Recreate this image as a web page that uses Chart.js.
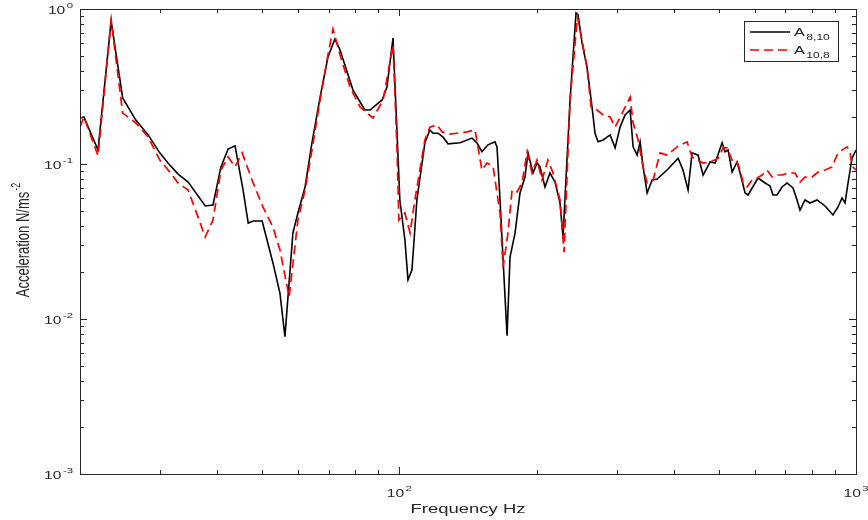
<!DOCTYPE html>
<html>
<head>
<meta charset="utf-8">
<script src="https://cdn.jsdelivr.net/npm/chart.js@4.4.1/dist/chart.umd.min.js"></script>
<style>
  html, body { margin: 0; padding: 0; background: #fff; }
  canvas { display: block; }
</style>
</head>
<body>
<canvas id="chart" width="868" height="520"></canvas>
<script>
// A8,10 measurement (solid black)
const freqA = [20, 20.4, 21.9, 23.4, 24.8, 26.5, 28.2, 29.9, 31.2, 32.8,
    34.5, 37.6, 39.1, 40.7, 42.2, 43.7, 45.5, 46.7, 47.9, 50.1,
    52.9, 54.8, 56.2, 58.5, 60.0, 62.2, 64.4, 67.1, 69.8, 72.3,
    74.2, 79.2, 84.1, 86.3, 91.7, 94.0, 96.9, 98.9, 100.3, 102.9,
    104.5, 106.6, 109.3, 113.8, 116.7, 118.6, 121.6, 124.7, 127.9, 135.9,
    144.3, 147.9, 151.7, 156.4, 162.0, 163.7, 166.2, 168.8, 172.2, 174.8,
    179.3, 183.8, 188.5, 191.4, 196.3, 200.3, 203.3, 208.5, 213.8, 219.3,
    224.9, 228.3, 236.6, 243.8, 246.3, 251.3, 257.6, 264.3, 268.3, 272.5,
    279.4, 289.5, 296.9, 304.4, 312.2, 320.2, 325.1, 331.7, 336.8, 341.9,
    348.9, 357.8, 366.9, 385.8, 407.9, 418.0, 428.9, 437.6, 451.1, 462.6,
    479.3, 491.5, 509.2, 516.9, 524.8, 535.5, 549.1, 557.5, 571.7, 580.4,
    601.2, 610.3, 632.2, 648.3, 658.2, 671.6, 688.7, 706.3, 727.9, 742.8,
    754.1, 773.4, 793.0, 821.6, 855.4, 890.6, 913.3, 931.9, 946.2, 960.6,
    980.3, 1000];
const accA = [0.198, 0.201, 0.123, 0.837, 0.267, 0.192, 0.154, 0.118, 0.101, 0.0861,
    0.0765, 0.0536, 0.0544, 0.0957, 0.125, 0.131, 0.068, 0.0416, 0.0429, 0.0429,
    0.023, 0.0147, 0.0077, 0.0359, 0.0483, 0.0711, 0.137, 0.27, 0.49, 0.64,
    0.544, 0.30, 0.223, 0.223, 0.259, 0.314, 0.65, 0.158, 0.0586, 0.0323,
    0.0179, 0.0207, 0.0586, 0.137, 0.166, 0.158, 0.158, 0.149, 0.135, 0.137,
    0.147, 0.137, 0.12, 0.133, 0.139, 0.129, 0.0586, 0.024, 0.0078, 0.0251,
    0.0359, 0.065, 0.0824, 0.118, 0.0875, 0.1015, 0.0957, 0.0711, 0.0875, 0.0765,
    0.056, 0.0338, 0.259, 0.942, 0.915, 0.604, 0.423, 0.233, 0.158, 0.139,
    0.143, 0.154, 0.127, 0.173, 0.207, 0.223, 0.129, 0.114, 0.139, 0.0957,
    0.065, 0.0788, 0.08, 0.0914, 0.109, 0.0914, 0.068, 0.118, 0.114, 0.0849,
    0.103, 0.1015, 0.137, 0.12, 0.123, 0.0888, 0.103, 0.0875, 0.065, 0.0631,
    0.0754, 0.0812, 0.0754, 0.0722, 0.0631, 0.0631, 0.0711, 0.0754, 0.070, 0.0586,
    0.0505, 0.0586, 0.056, 0.0586, 0.0536, 0.0469, 0.0528, 0.0604, 0.056, 0.0754,
    0.109, 0.123];

// A10,8 measurement (dashed red)
const freqB = [20, 20.4, 21.9, 23.4, 24.8, 26.5, 28.2, 29.9, 31.2, 32.8,
    34.5, 37.6, 39.1, 40.7, 42.2, 43.7, 45.3, 47.6, 50.3, 52.9,
    54.8, 57.4, 60.0, 62.2, 64.4, 67.1, 69.8, 71.6, 74.2, 78.0,
    82.1, 87.6, 92.2, 96.9, 98.9, 99.8, 102.9, 105.6, 108.2, 113.8,
    116.7, 121.0, 124.1, 129.1, 140.8, 146.5, 148.7, 151.7, 155.6, 160.4,
    166.2, 168.8, 173.0, 176.6, 181.1, 185.7, 190.5, 195.3, 200.3, 205.4,
    211.6, 217.1, 224.9, 229.5, 236.6, 245.5, 251.3, 257.6, 263.0, 271.1,
    279.4, 289.5, 296.9, 307.6, 320.2, 325.1, 333.4, 341.9, 348.9, 359.6,
    372.4, 385.8, 405.8, 426.7, 437.6, 448.8, 462.6, 479.3, 499.3, 511.6,
    522.1, 530.1, 538.2, 549.1, 557.5, 566.0, 577.5, 592.2, 607.3, 622.8,
    638.7, 655.0, 671.6, 688.7, 709.8, 735.3, 754.1, 773.4, 801.0, 826.1,
    855.4, 886.1, 908.7, 931.9, 955.8, 970.4, 980.3, 1000];
const accB = [0.173, 0.201, 0.113, 0.849, 0.213, 0.184, 0.149, 0.106, 0.0914, 0.0754,
    0.068, 0.0338, 0.0435, 0.0914, 0.111, 0.0957, 0.118, 0.0788, 0.0528, 0.0392,
    0.0279, 0.0139, 0.0435, 0.068, 0.123, 0.259, 0.505, 0.743, 0.505, 0.314,
    0.233, 0.198, 0.259, 0.586, 0.123, 0.0435, 0.0483, 0.0359, 0.0586, 0.143,
    0.173, 0.179, 0.161, 0.156, 0.161, 0.166, 0.129, 0.0914, 0.1015, 0.097,
    0.0483, 0.0216, 0.0359, 0.068, 0.066, 0.0754, 0.1195, 0.0875, 0.106, 0.0788,
    0.106, 0.0875, 0.0586, 0.027, 0.259, 0.888, 0.631, 0.423, 0.233, 0.223,
    0.207, 0.201, 0.173, 0.213, 0.27, 0.184, 0.143, 0.0957, 0.0754, 0.0788,
    0.118, 0.114, 0.129, 0.139, 0.111, 0.106, 0.1015, 0.103, 0.109, 0.127,
    0.127, 0.114, 0.1015, 0.103, 0.0914, 0.0754, 0.0711, 0.0788, 0.0812, 0.0849,
    0.0914, 0.0824, 0.0849, 0.0849, 0.0875, 0.0875, 0.0765, 0.0824, 0.0824, 0.0888,
    0.0914, 0.0957, 0.114, 0.123, 0.129, 0.1195, 0.097, 0.0914];

// axis decades and their labels (base, exponent)
const xDecades = [100, 1000];
const xDecadeLabels = [['10', '2'], ['10', '3']];
const yDecades = [0.001, 0.01, 0.1, 1];
const yDecadeLabels = [['10', '-3'], ['10', '-2'], ['10', '-1'], ['10', '0']];

const legendNames = [['A', '8,10'], ['A', '10,8']];
const xTitle = 'Frequency Hz';
const yTitle = ['Acceleration N/ms', '-2'];

const AXIS = '#262626';
const FONT = '"Liberation Sans", Arial, sans-serif';
const SX = 1.42; // text is drawn a bit wide

function minorTicks(lo, hi) {
    const out = [];
    for (let d = lo; d < hi; d *= 10) {
        for (let k = 2; k <= 9; k++) {
            out.push(+(d * k).toPrecision(3));
        }
    }
    return out;
}

// draws "base" with a raised or lowered smaller part, stretched horizontally
function drawScript(ctx, base, small, x, y, opt) {
    ctx.font = opt.size + 'px ' + FONT;
    const wb = ctx.measureText(base).width;
    ctx.font = opt.small + 'px ' + FONT;
    const ws = ctx.measureText(small).width;
    const total = (wb + ws + 1) * SX;
    let x0 = x;
    if (opt.align === 'right') x0 = x - total;
    if (opt.align === 'center') x0 = x - total / 2;
    ctx.save();
    ctx.translate(x0, y);
    ctx.scale(SX, 1);
    ctx.fillStyle = AXIS;
    ctx.textBaseline = 'alphabetic';
    ctx.textAlign = 'left';
    ctx.font = opt.size + 'px ' + FONT;
    ctx.fillText(base, 0, 0);
    ctx.font = opt.small + 'px ' + FONT;
    ctx.fillText(small, wb + 1, opt.shift);
    ctx.restore();
}

const decorPlugin = {
    id: 'decor',
    afterDraw(chart) {
        const ctx = chart.ctx;
        const xs = chart.scales.x, ys = chart.scales.y;
        const a = chart.chartArea;

        ctx.save();
        // box
        ctx.strokeStyle = AXIS;
        ctx.lineWidth = 1;
        ctx.strokeRect(a.left + 0.5, a.top + 0.5, a.right - a.left, a.bottom - a.top);

        // inward ticks on all four sides
        ctx.beginPath();
        const tickX = (v, len) => {
            const px = Math.round(xs.getPixelForValue(v)) + 0.5;
            ctx.moveTo(px, a.bottom); ctx.lineTo(px, a.bottom - len);
            ctx.moveTo(px, a.top); ctx.lineTo(px, a.top + len);
        };
        const tickY = (v, len) => {
            const py = Math.round(ys.getPixelForValue(v)) + 0.5;
            ctx.moveTo(a.left, py); ctx.lineTo(a.left + len, py);
            ctx.moveTo(a.right, py); ctx.lineTo(a.right - len, py);
        };
        minorTicks(10, 1000).filter(v => v > 20 && v < 1000).forEach(v => tickX(v, 4));
        xDecades.forEach(v => tickX(v, 7));
        minorTicks(0.001, 1).forEach(v => tickY(v, 4));
        yDecades.forEach(v => tickY(v, 7));
        ctx.stroke();

        // tick labels
        xDecades.forEach((v, i) => {
            const px = xs.getPixelForValue(v);
            drawScript(ctx, xDecadeLabels[i][0], xDecadeLabels[i][1], px, a.bottom + 23,
                { size: 11, small: 8, shift: -6, align: 'center' });
        });
        yDecades.forEach((v, i) => {
            const py = ys.getPixelForValue(v);
            drawScript(ctx, yDecadeLabels[i][0], yDecadeLabels[i][1], a.left - 7, py + 5,
                { size: 11, small: 8, shift: -6, align: 'right' });
        });

        // axis titles
        ctx.fillStyle = AXIS;
        ctx.font = '13px ' + FONT;
        ctx.textBaseline = 'alphabetic';
        ctx.textAlign = 'center';
        ctx.save();
        ctx.translate((a.left + a.right) / 2, 513);
        ctx.scale(SX, 1);
        ctx.fillText(xTitle, 0, 0);
        ctx.restore();

        ctx.save();
        ctx.font = '13px ' + FONT;
        const w1 = ctx.measureText(yTitle[0]).width;
        ctx.font = '9px ' + FONT;
        const w2 = ctx.measureText(yTitle[1]).width;
        ctx.translate(29, 240);
        ctx.rotate(-Math.PI / 2);
        ctx.scale(1, SX);
        ctx.textAlign = 'left';
        const start = -(w1 + w2 + 1) / 2;
        ctx.font = '13px ' + FONT;
        ctx.fillText(yTitle[0], start, 0);
        ctx.font = '9px ' + FONT;
        ctx.fillText(yTitle[1], start + w1 + 1, -6);
        ctx.restore();

        // legend
        const lx = 744, ly = 21, lw = 94, lh = 40;
        ctx.fillStyle = '#fff';
        ctx.fillRect(lx, ly, lw, lh);
        ctx.strokeStyle = AXIS;
        ctx.strokeRect(lx + 0.5, ly + 0.5, lw, lh);
        chart.data.datasets.forEach((ds, i) => {
            const y = ly + 11 + i * 18;
            ctx.save();
            ctx.strokeStyle = ds.borderColor;
            ctx.lineWidth = ds.borderWidth;
            ctx.setLineDash(ds.borderDash || []);
            ctx.beginPath();
            ctx.moveTo(lx + 6, y);
            ctx.lineTo(lx + 46, y);
            ctx.stroke();
            ctx.restore();
            drawScript(ctx, legendNames[i][0], legendNames[i][1], lx + 50, y + 3.5,
                { size: 11.5, small: 8.5, shift: 4, align: 'left' });
        });
        ctx.restore();
    }
};

const toPoints = (fs, vs) => fs.map((f, i) => ({ x: f, y: vs[i] }));

new Chart(document.getElementById('chart').getContext('2d'), {
    type: 'line',
    data: {
        datasets: [{
            label: 'A8,10',
            data: toPoints(freqA, accA),
            borderColor: '#000000',
            borderWidth: 1.6,
            pointRadius: 0,
            tension: 0,
            order: 1
        }, {
            label: 'A10,8',
            data: toPoints(freqB, accB),
            borderColor: '#ff0000',
            borderWidth: 1.7,
            borderDash: [9, 5],
            pointRadius: 0,
            tension: 0,
            order: 0
        }]
    },
    options: {
        responsive: false,
        animation: false,
        layout: { padding: { top: 9, right: 12, left: 0, bottom: 0 } },
        plugins: {
            legend: { display: false },
            tooltip: { enabled: false }
        },
        scales: {
            x: {
                type: 'logarithmic',
                min: 20,
                max: 1000,
                ticks: { display: false },
                grid: { display: false },
                border: { display: false },
                afterFit: s => { s.height = 46; }
            },
            y: {
                type: 'logarithmic',
                min: 0.001,
                max: 1,
                ticks: { display: false },
                grid: { display: false },
                border: { display: false },
                afterFit: s => { s.width = 80; }
            }
        }
    },
    plugins: [decorPlugin]
});
</script>
</body>
</html>
